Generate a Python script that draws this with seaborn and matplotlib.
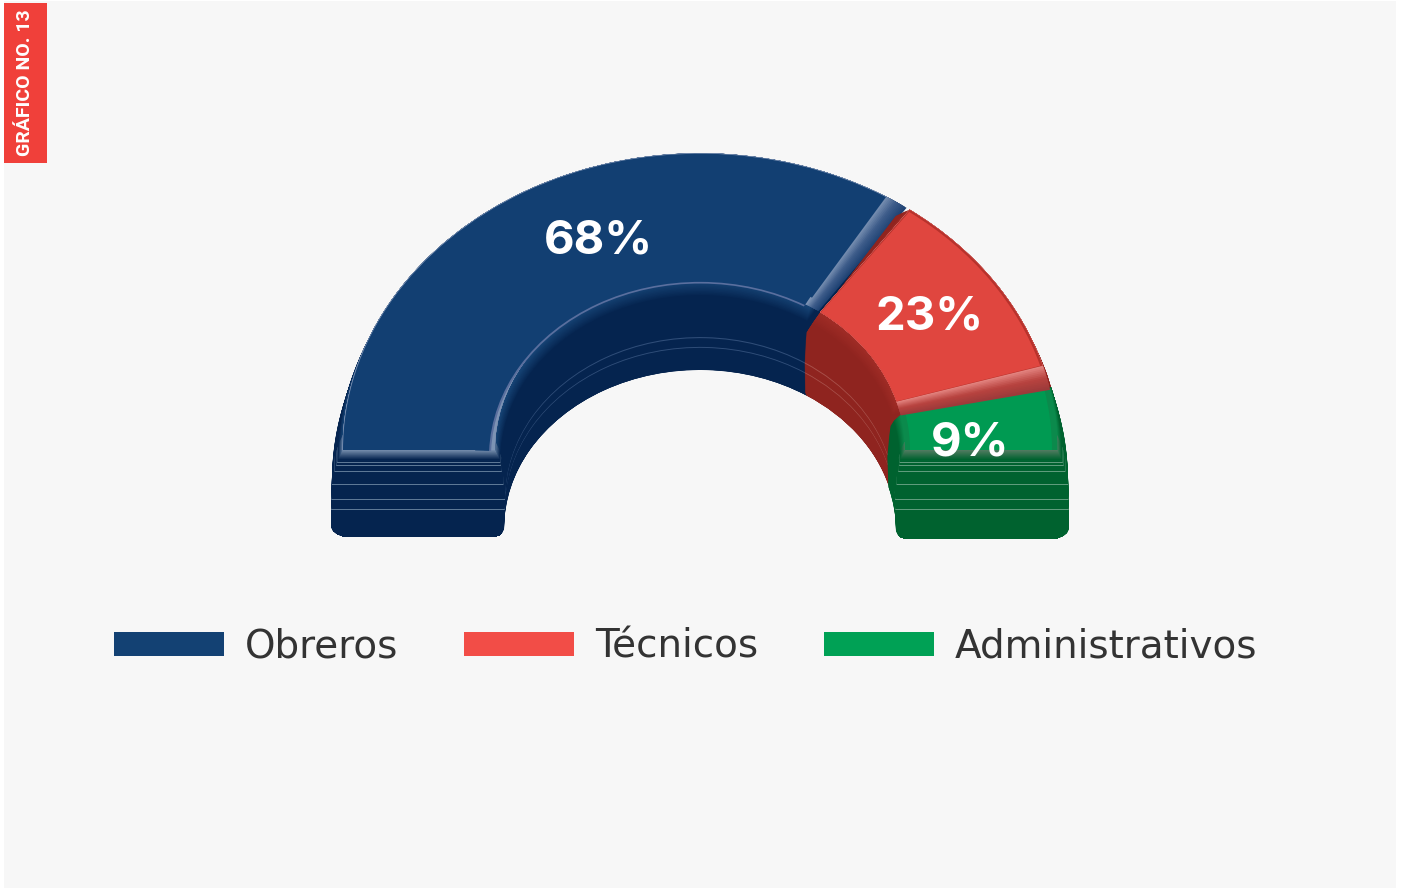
import numpy as np
import seaborn as sns
import matplotlib
matplotlib.use("Agg")
import matplotlib.pyplot as plt
from matplotlib.patches import Patch, Rectangle

categories = ["Obreros", "Técnicos", "Administrativos"]
percent = [68, 23, 9]
percent_labels = ["68%", "23%", "9%"]
badge_text = "GRÁFICO NO. 13"

face_colors = ["#123f72", "#e0463f", "#009a52"]
legend_colors = ["#134173", "#f24d47", "#00a155"]
wall_top = ["#174577", "#a02c26", "#0b8a4c"]
wall_dark = ["#05244f", "#8f241f", "#00622f"]
front_light = ["#7088a8", None, "#4f7a5f"]
front_line = ["#5d7896", None, "#5f9c7c"]
wall_line = ["#2f4d78", "#a8504a", None]

# pixel geometry of the half ring
CX, CY = 700, 450
SQUASH = 0.83
W, H = 1402, 890
depth = [87, 87, 89]
line_rows = [12, 15, 21, 34, 49, 59]
wall_rows = [49, 59]

sns.set_theme(style="white", rc={"figure.facecolor": "white"})

fig = plt.figure(figsize=(W / 100, H / 100), dpi=100)
fig.add_artist(Rectangle((4 / W, 2 / H), 1392 / W, 887 / H, transform=fig.transFigure,
                         facecolor="#f7f7f7", edgecolor="none", zorder=-5))
ax = fig.add_axes([0, 0, 1, 1])
ax.patch.set_visible(False)

fracs = [p / 200 for p in percent]
spans = [f * 360 for f in fracs]


def draw_slice(i, dy, rx, rin, color, cut_start=0.0, cut_end=0.0):
    wedges, _ = ax.pie(fracs, radius=rx, center=(0, -dy / SQUASH), startangle=180,
                       counterclock=False, normalize=False,
                       wedgeprops=dict(width=rx - rin, linewidth=0))
    for j, w in enumerate(wedges):
        if j != i:
            w.remove()
        else:
            w.set_facecolor(color)
            w.set_theta2(w.theta2 - cut_start)
            w.set_theta1(w.theta1 + cut_end)


def outer(dy):
    return np.interp(dy, [0, 10, 30, 70, 78, 82, 85, 87], [357.5, 362, 368, 369, 369, 367, 363, 358])


def inner(dy):
    return np.interp(dy, [0, 10, 30, 50, 80, 84, 86, 87], [205, 200, 197, 195, 196, 198, 200, 203])


def draw_front(i, dy, rx, rin, color):
    # only the flat cut end of the ring, so the colour stays off the curved walls
    if i == 0:
        draw_slice(i, dy, rx, rin, color, cut_end=spans[i] - 3)
    else:
        draw_slice(i, dy, rx, rin, color, cut_start=spans[i] - 3)


def draw_stack(i, start_cut=0.0):
    pal = sns.blend_palette([wall_top[i], wall_dark[i]], n_colors=12)
    if front_light[i]:
        front = sns.blend_palette([front_light[i], wall_dark[i]], n_colors=10)
    for dy in range(depth[i], 0, -1):
        k = dy - 1
        col = pal[k] if k < len(pal) else wall_dark[i]
        if k in wall_rows and wall_line[i]:
            col = wall_line[i]
        cut = start_cut * max(0, 1 - dy / 22)
        rx, rin = outer(dy * 87 / depth[i]), inner(dy * 87 / depth[i])
        draw_slice(i, dy, rx, rin, col, cut_start=cut)
        if front_light[i]:
            if k < 10:
                draw_front(i, dy, rx, rin, front[k])
            elif k in line_rows:
                draw_front(i, dy, rx, rin, front_line[i])


def draw_bevel(i, cut_from, cut_to, colors, cut_start=0.0):
    pal = sns.blend_palette(colors, n_colors=14)
    for col, cut in zip(pal, np.linspace(cut_from, cut_to, 14)):
        draw_slice(i, 0, 357.5, 205, col, cut_start=cut_start, cut_end=cut)


# blue
draw_stack(0)
draw_bevel(0, -2.9, 1.0, ["#1f4273", "#3d5c8a", "#7d93b4"])
draw_slice(0, 0, 357, 215, face_colors[0], cut_end=1.0)
# inner edge of the top face is flatter than the outer one, so it gets its own centre
draw_slice(0, 7, 216, 209, "#5a6f9e", cut_start=2.0, cut_end=2.6)
draw_slice(0, 7, 225, 211, face_colors[0], cut_start=2.0, cut_end=2.6)

# red sits behind green, its strip comes back on top later
draw_stack(1, start_cut=3.5)

# green
draw_stack(2, start_cut=4.2)
draw_slice(2, 0, 357.5, 205, "#0b8a4c", cut_start=4.2)
draw_slice(2, 0, 352, 210, face_colors[2], cut_start=4.2)

draw_bevel(1, -4.5, 0.0, ["#9c3a3a", "#b8433f", "#e2827e"], cut_start=3.5)
draw_slice(1, 0, 357.5, 205, "#b8322c", cut_start=3.5, cut_end=0.3)
draw_slice(1, 0, 355, 205, face_colors[1], cut_start=3.7, cut_end=0.4)

ax.set_aspect("auto")
ax.set_xlim(-CX, W - CX)
ax.set_ylim((CY - H) / SQUASH, CY / SQUASH)
ax.set_xticks([])
ax.set_yticks([])
sns.despine(ax=ax, left=True, bottom=True)

# labels
label_xy = [(598, 236), (930, 313), (970, 438)]
for txt, (x, y) in zip(percent_labels, label_xy):
    fig.text(x / W, 1 - y / H, txt, color="white", fontsize=34, fontweight="bold",
             family="Inter", ha="center", va="center_baseline")

# badge
fig.add_artist(Rectangle((4 / W, 1 - 163 / H), 43 / W, 160 / H, transform=fig.transFigure,
                         facecolor="#f0403a", edgecolor="none"))
fig.text(25 / W, 1 - 83 / H, badge_text, color="white", rotation=90, fontsize=14, fontweight="bold",
         family="Roboto", ha="center", va="center")

# legend
handles = [Patch(facecolor=c, edgecolor="none", label=n) for c, n in zip(legend_colors, categories)]
fig.legend(handles=handles, ncols=3, frameon=False, loc="center left",
           bbox_to_anchor=(79 / W, 1 - 647 / H),
           prop={"family": "DejaVu Sans", "size": 28},
           labelcolor="#333333", handlelength=2.83, handleheight=0.57,
           handletextpad=0.54, columnspacing=1.69)

fig.savefig("out.png", dpi=100)
